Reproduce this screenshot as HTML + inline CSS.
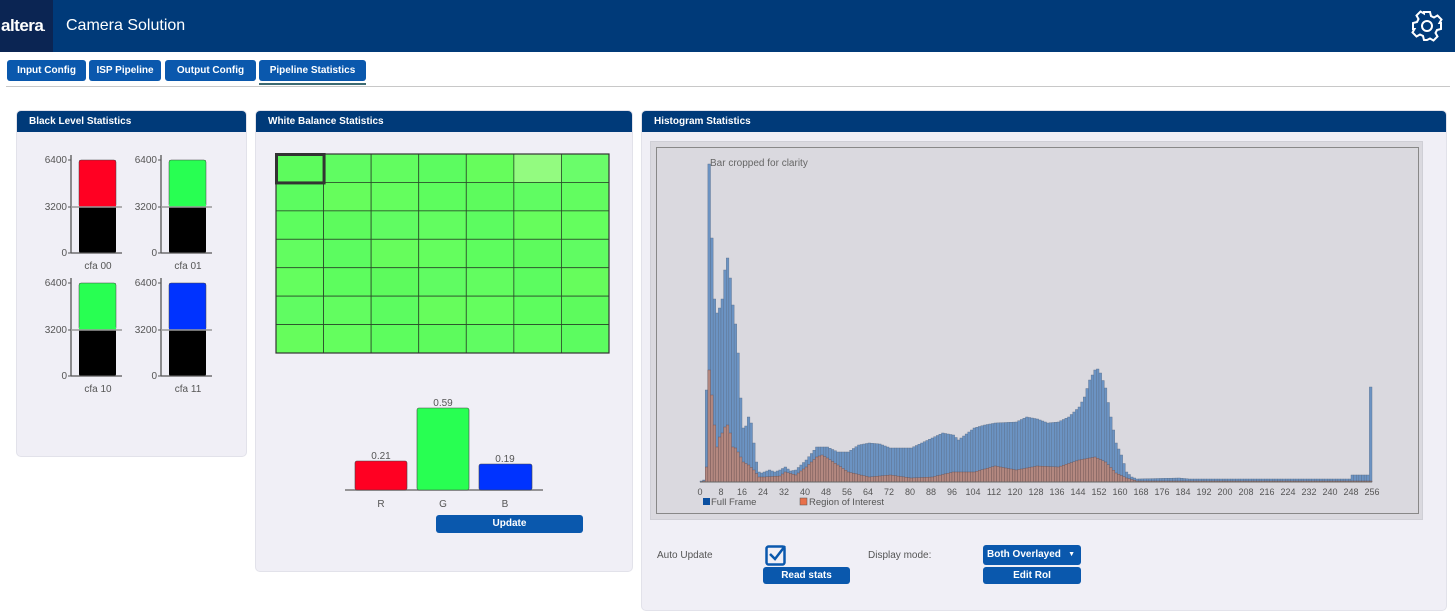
<!DOCTYPE html>
<html><head><meta charset="utf-8">
<style>
*{box-sizing:border-box;margin:0;padding:0}
body{width:1455px;height:612px;background:#fff;font-family:"Liberation Sans","DejaVu Sans",sans-serif;position:relative;overflow:hidden}
.hdr{position:absolute;left:0;top:0;width:1455px;height:52px;background:#003a79}
.logo{position:absolute;left:0;top:0;width:53px;height:52px;background:#0b2553;color:#fff;font-weight:bold;font-size:17px;line-height:52px;padding-left:1px;letter-spacing:-0.5px}
.title{position:absolute;left:66px;top:17px;color:#fff;font-size:16px}
.tab{position:absolute;top:60px;height:21px;background:#0a58ad;color:#fff;font-size:10px;font-weight:bold;text-align:center;line-height:21px;border-radius:3px}
.abs{position:absolute}
.panel{position:absolute;background:#f0eff6;border-radius:5px;border:1px solid #e2e2ea}
.ph{position:absolute;left:0;top:0;right:0;height:21px;background:#003a79;color:#fff;font-size:10px;font-weight:bold;line-height:22px;padding-left:12px;border-radius:4px 4px 0 0}
.btn{position:absolute;background:#0a58ad;color:#fff;font-size:10px;font-weight:bold;text-align:center;border-radius:3px}
.lbl{position:absolute;font-size:10px;color:#555}
</style></head><body>
<div class="hdr"><div class="logo">altera<span style="font-size:8px">.</span></div><div class="title">Camera Solution</div>
<svg class="abs" style="left:1410px;top:9px" width="34" height="34" viewBox="0 0 34 34"><g fill="none" stroke="#fff" stroke-width="2"><path d="M31 14v6l-4 1-1.5 3 2 3.5-4 4-3.5-2L17 31h-3l-1-4-3-1.5-3.5 2-4-4 2-3.5L3 20v-6l4-1 1.5-3-2-3.5 4-4 3.5 2L14 3h6l1 4 3 1.5 3.5-2 4 4-2 3.5L31 14z"/><circle cx="17" cy="17" r="5"/></g></svg></div>
<div class="tab" style="left:7px;width:79px">Input Config</div>
<div class="tab" style="left:89px;width:72px">ISP Pipeline</div>
<div class="tab" style="left:165px;width:91px">Output Config</div>
<div class="tab" style="left:259px;width:107px">Pipeline Statistics</div>
<div class="abs" style="left:259px;top:83px;width:107px;height:2px;background:#3d6a72"></div>
<div class="abs" style="left:6px;top:86px;width:1444px;height:1px;background:#c8c8c8"></div>

<div class="panel" style="left:16px;top:110px;width:231px;height:347px"><div class="ph">Black Level Statistics</div></div>
<svg class="abs" style="left:16px;top:140px" width="230" height="260" font-family="Liberation Sans,sans-serif" font-size="10" fill="#555">
<g id="bl"></g>
</svg>

<div class="panel" style="left:255px;top:110px;width:378px;height:462px"><div class="ph">White Balance Statistics</div></div>
<svg class="abs" style="left:255px;top:140px" width="378" height="400" font-family="Liberation Sans,sans-serif" font-size="10">
<g id="wb"></g>
<line x1="90" y1="350" x2="288" y2="350" stroke="#777" stroke-width="1.5"/>
<rect x="100" y="321" width="52" height="29" rx="2" fill="#ff0022" stroke="#444" stroke-width="0.6"/>
<rect x="162" y="268" width="52" height="82" rx="2" fill="#28ff52" stroke="#444" stroke-width="0.6"/>
<rect x="224" y="324" width="53" height="26" rx="2" fill="#0033ff" stroke="#444" stroke-width="0.6"/>
<g fill="#555" text-anchor="middle"><text x="126" y="319">0.21</text><text x="188" y="266">0.59</text><text x="250" y="322">0.19</text>
<text x="126" y="367">R</text><text x="188" y="367">G</text><text x="250" y="367">B</text></g>
</svg>
<div class="btn" style="left:436px;top:515px;width:147px;height:18px;line-height:18px">Update</div>

<div class="panel" style="left:641px;top:110px;width:806px;height:501px"><div class="ph">Histogram Statistics</div></div>
<div class="abs" style="left:650px;top:141px;width:773px;height:379px;background:#dad9df;border:1px solid #cfcfd6"></div>
<div class="abs" style="left:656px;top:147px;width:763px;height:367px;border:1px solid #888"></div>
<svg class="abs" style="left:650px;top:141px" width="773" height="379" font-family="Liberation Sans,sans-serif" font-size="10">
<g id="hist"></g>
<text x="60" y="25" fill="#666">Bar cropped for clarity</text>
<rect x="53" y="357" width="7" height="7" fill="#0a4fa0"/><text x="61" y="364" fill="#555" font-size="9.5">Full Frame</text>
<rect x="150" y="357" width="7" height="7" fill="#e8704a" stroke="#555" stroke-width="0.5"/><text x="159" y="364" fill="#555" font-size="9.5">Region of Interest</text>
</svg>
<div class="lbl" style="left:657px;top:550px">Auto Update</div>
<svg class="abs" style="left:765px;top:544px" width="22" height="22"><rect x="1.5" y="2.5" width="18" height="18" rx="2" fill="none" stroke="#0a58ad" stroke-width="2.5"/><path d="M5 10l5 5 10-13" fill="none" stroke="#0a58ad" stroke-width="2.5"/></svg>
<div class="btn" style="left:763px;top:567px;width:87px;height:17px;line-height:17px">Read stats</div>
<div class="lbl" style="left:868px;top:550px">Display mode:</div>
<div class="btn" style="left:983px;top:545px;width:98px;height:20px;line-height:20px;text-align:left;padding-left:4px">Both Overlayed <span style="position:absolute;right:6px;top:0;font-size:7px">▼</span></div>
<div class="btn" style="left:983px;top:567px;width:98px;height:17px;line-height:17px">Edit RoI</div>

<script>
var NS="http://www.w3.org/2000/svg";
function el(p,t,a,txt){var e=document.createElementNS(NS,t);for(var k in a)e.setAttribute(k,a[k]);if(txt!==undefined)e.textContent=txt;p.appendChild(e);return e;}
var bl=document.getElementById('bl');
var cfg=[[55,20,"#ff0022","cfa 00"],[145,20,"#28ff52","cfa 01"],[55,143,"#28ff52","cfa 10"],[145,143,"#0033ff","cfa 11"]];
cfg.forEach(function(c){var x=c[0],y=c[1];
el(bl,'rect',{x:x+8,y:y,width:37,height:93,rx:2,fill:'#000'});
el(bl,'rect',{x:x+8,y:y,width:37,height:47,rx:2,fill:c[2],stroke:'#444','stroke-width':0.5});
el(bl,'rect',{x:x+8,y:y+44,width:37,height:3,fill:c[2]});
el(bl,'line',{x1:x,y1:y-5,x2:x,y2:y+93,stroke:'#555','stroke-width':1.3});
el(bl,'line',{x1:x,y1:y+93,x2:x+51,y2:y+93,stroke:'#555','stroke-width':1.3});
el(bl,'line',{x1:x,y1:y+47,x2:x+51,y2:y+47,stroke:'#999','stroke-width':1.5});
[[0,"6400"],[47,"3200"],[93,"0"]].forEach(function(t){el(bl,'line',{x1:x-3,y1:y+t[0],x2:x,y2:y+t[0],stroke:'#555'});el(bl,'text',{x:x-4,y:y+t[0]+3,'text-anchor':'end'},t[1]);});
el(bl,'text',{x:x+27,y:y+109,'text-anchor':'middle'},c[3]);});
var wb=document.getElementById('wb');
var gx=21,gy=14,cw=333/7,ch=199/7;
var cols=["#5dfb5d","#60fc62","#62fd60","#5cfc60","#66fd5c","#64fe5e","#5dfd5e"];
for(var r=0;r<7;r++)for(var c=0;c<7;c++){var f=cols[(r*3+c)%7];if(r==0&&c==5)f="#93fb80";if(r==0&&c==6)f="#6afd6a";
el(wb,'rect',{x:gx+c*cw,y:gy+r*ch,width:cw,height:ch,fill:f,stroke:'#2a4a2a','stroke-width':0.8});}
el(wb,'rect',{x:gx+0.5,y:gy+0.5,width:cw,height:ch,fill:'none',stroke:'#333','stroke-width':3});
el(wb,'rect',{x:gx,y:gy,width:333,height:199,fill:'none',stroke:'#333','stroke-width':1.2});
function interp(pts,i){for(var k=0;k<pts.length-1;k++){if(i>=pts[k][0]&&i<=pts[k+1][0]){var a=pts[k],b=pts[k+1];return a[1]+(b[1]-a[1])*(i-a[0])/(b[0]-a[0]);}}return pts[pts.length-1][1];}
var ff=[[0,1],[1,2],[2,92],[3,318],[4,244],[5,183],[6,169],[7,174],[8,183],[9,212],[10,224],[11,204],[12,177],[13,158],[14,129],[15,84],[16,54],[17,56],[18,65],[19,59],[20,39],[21,20],[22,10],[23,9],[26,12],[28,10],[30,12],[32,15],[34,11],[36,12],[40,22],[44,35],[48,35],[52,30],[56,30],[60,37],[64,39],[68,38],[72,34],[80,34],[88,44],[92,49],[96,47],[98,42],[104,54],[108,57],[112,59],[120,60],[124,65],[128,63],[132,59],[136,60],[140,65],[144,75],[146,85],[148,102],[150,112],[151,113],[152,109],[154,94],[156,65],[158,39],[160,27],[162,10],[164,5],[166,3],[182,4],[186,3],[247,3],[248,7],[254,7],[255,95]];
var roi=[[0,0],[1,1],[2,15],[3,112],[4,87],[5,57],[6,35],[7,45],[8,49],[9,55],[10,57],[11,49],[12,35],[13,34],[14,30],[16,20],[18,17],[20,12],[22,5],[24,5],[30,6],[32,10],[36,7],[40,15],[44,25],[46,27],[48,24],[52,17],[56,10],[64,5],[72,7],[80,4],[88,5],[96,10],[104,10],[112,16],[120,12],[128,16],[136,15],[144,22],[150,25],[154,20],[158,9],[162,4],[166,1],[255,1]];
var h=document.getElementById('hist');var x0=50,bw=672/256,by=341;
for(var i=0;i<256;i++){var v=interp(ff,i);el(h,'rect',{x:x0+i*bw,y:by-v,width:bw,height:v,fill:'#6b93c3',stroke:'#5a6e88','stroke-width':0.4});}
for(var i=0;i<256;i++){var v=interp(roi,i);if(v>0.5)el(h,'rect',{x:x0+i*bw,y:by-v,width:bw,height:v,fill:'#b48880',stroke:'#6a5050','stroke-width':0.4});}
el(h,'line',{x1:x0,y1:by,x2:x0+672,y2:by,stroke:'#666'});
for(var t=0;t<=256;t+=8)el(h,'text',{x:x0+t*bw,y:by+13,'text-anchor':'middle',fill:'#555','font-size':9},t);
</script>
</body></html>
